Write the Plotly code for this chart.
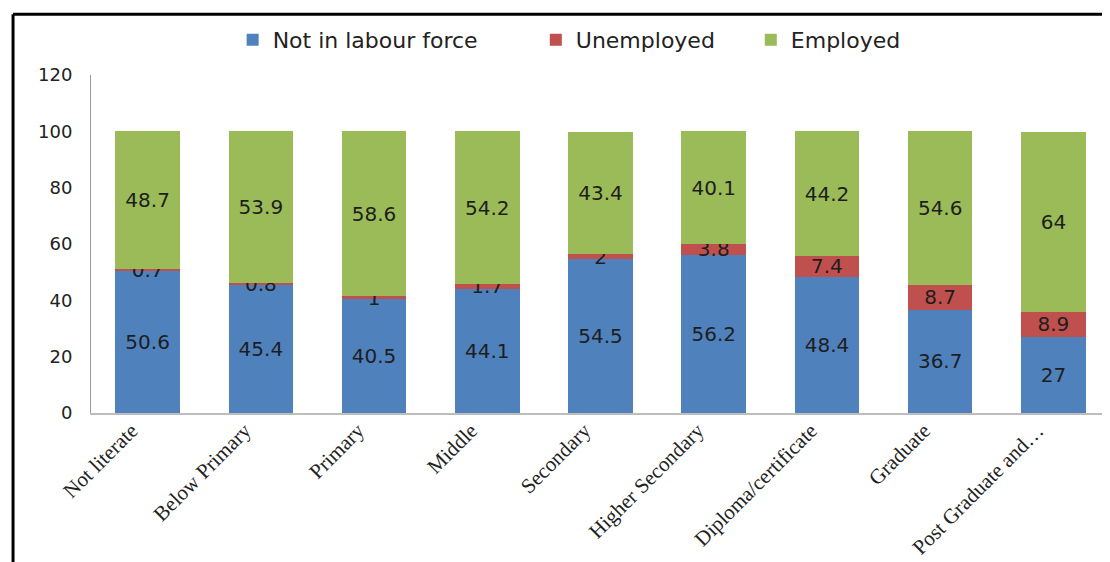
import plotly.graph_objects as go

categories = ["Not literate", "Below Primary", "Primary", "Middle", "Secondary",
              "Higher Secondary", "Diploma/certificate", "Graduate", "Post Graduate and…"]
not_in_lf = [50.6, 45.4, 40.5, 44.1, 54.5, 56.2, 48.4, 36.7, 27]
unemployed = [0.7, 0.8, 1, 1.7, 2, 3.8, 7.4, 8.7, 8.9]
employed = [48.7, 53.9, 58.6, 54.2, 43.4, 40.1, 44.2, 54.6, 64]

series = [
    ("Not in labour force", not_in_lf, "#4F81BD", "legend", 0.139),
    ("Unemployed", unemployed, "#C0504D", "legend2", 0.4365),
    ("Employed", employed, "#9BBB59", "legend3", 0.6475),
]

fig = go.Figure()
legend_cfg = {}
for name, vals, col, lg, lx in series:
    fig.add_trace(go.Bar(
        name=name, x=categories, y=vals, marker=dict(color=col, line=dict(width=0)),
        text=[f"{v:g}" for v in vals], textposition="inside", insidetextanchor="middle",
        textangle=0, constraintext="none",
        textfont=dict(family="DejaVu Sans", size=20, color="#1e1e1e"),
        cliponaxis=False, legend=lg,
    ))
    legend_cfg[lg] = dict(orientation="h", x=lx, xanchor="left", y=1.104, yanchor="middle",
                          font=dict(family="DejaVu Sans", size=22, color="#222"),
                          itemwidth=30, bgcolor="rgba(0,0,0,0)")

fig.update_layout(
    barmode="stack", bargap=0.43,
    width=1102, height=554,
    margin=dict(l=83, r=0, t=67, b=149, autoexpand=False),
    paper_bgcolor="white", plot_bgcolor="white",
    uniformtext=dict(minsize=20, mode="show"),
    showlegend=True,
    **legend_cfg,
)
fig.update_yaxes(range=[0, 120], dtick=20, showgrid=False, showline=True,
                 linecolor="#9a9a9a", linewidth=1, ticks="", zeroline=False,
                 automargin=False,
                 tickfont=dict(family="DejaVu Sans", size=18, color="#222"),
                 ticklabelstandoff=14)
fig.update_xaxes(showline=True, linecolor="#bdbdbd", linewidth=2, ticks="",
                 tickangle=-45, ticklabelshift=-16, ticklabelstandoff=-5,
                 automargin=False,
                 tickfont=dict(family="Liberation Serif", size=21, color="#222"))

# outer frame
fig.add_shape(type="line", xref="paper", yref="paper", x0=-0.0765, x1=1.1, y0=1.18, y1=1.18,
              line=dict(color="black", width=3))
fig.add_shape(type="line", xref="paper", yref="paper", x0=-0.0765, x1=-0.0765, y0=1.18, y1=-0.5,
              line=dict(color="black", width=3))

fig.write_html("out.html")
